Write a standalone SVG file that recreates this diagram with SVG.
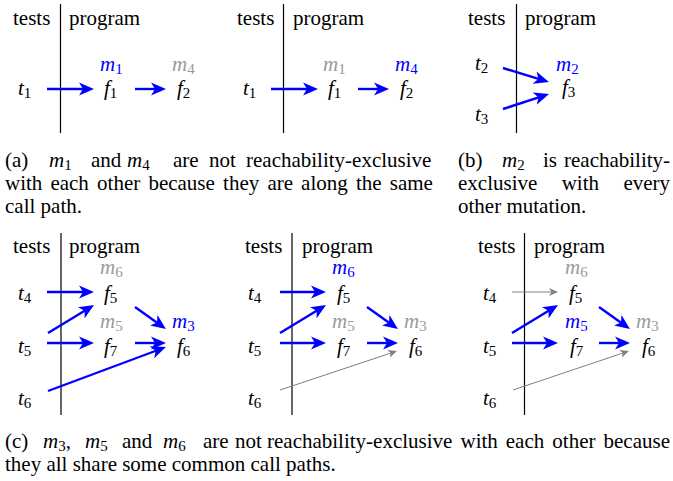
<svg xmlns="http://www.w3.org/2000/svg" width="673" height="481" viewBox="0 0 673 481">
<style>
text { font-family: "Liberation Serif", "Times New Roman", serif; font-size: 21px; fill: #000; }
.mi { font-style: italic; }
.sub { font-size: 15px; font-style: normal; }
.b { fill: #0000ff; }
.g { fill: #9a9a9a; }
.sep { stroke: #000; stroke-width: 1.2; }
.ab { fill: none; stroke: #0000ff; stroke-width: 2.4; marker-end: url(#hb); }
.ag { fill: none; stroke: #808080; stroke-width: 1; marker-end: url(#hg); }
</style>
<defs>
<marker id="hb" viewBox="0 -7 15 14" refX="5" refY="0" markerWidth="15" markerHeight="14" markerUnits="userSpaceOnUse" orient="auto">
<path d="M0,-6.5 L15,0 L0,6.5 L4,0 Z" fill="#0000ff"/>
</marker>
<marker id="hg" viewBox="0 -5 10 10" refX="3" refY="0" markerWidth="10" markerHeight="10" markerUnits="userSpaceOnUse" orient="auto">
<path d="M0,-4 L9,0 L0,4 L2.5,0 Z" fill="#808080"/>
</marker>
</defs>

<!-- Panel a1 -->
<g id="a1-frame">
<text x="13" y="25">tests</text>
<text x="69" y="25">program</text>
<line class="sep" x1="60.5" y1="4" x2="60.5" y2="133"/>
</g>
<g id="a1-t1"><text x="18" y="95"><tspan class="mi">t</tspan><tspan class="sub" dy="3">1</tspan></text></g>
<g id="a1-f1"><text x="104" y="95"><tspan class="mi">f</tspan><tspan class="sub" dy="3">1</tspan></text><text class="b" x="100" y="71"><tspan class="mi">m</tspan><tspan class="sub" dy="3">1</tspan></text></g>
<g id="a1-f2"><text x="177" y="95"><tspan class="mi">f</tspan><tspan class="sub" dy="3">2</tspan></text><text class="g" x="172" y="71"><tspan class="mi">m</tspan><tspan class="sub" dy="3">4</tspan></text></g>

<!-- Panel a2 -->
<g id="a2-frame">
<text x="237" y="25">tests</text>
<text x="293" y="25">program</text>
<line class="sep" x1="283.5" y1="4" x2="283.5" y2="133"/>
</g>
<g id="a2-t1"><text x="243" y="95"><tspan class="mi">t</tspan><tspan class="sub" dy="3">1</tspan></text></g>
<g id="a2-f1"><text x="328" y="95"><tspan class="mi">f</tspan><tspan class="sub" dy="3">1</tspan></text><text class="g" x="323" y="71"><tspan class="mi">m</tspan><tspan class="sub" dy="3">1</tspan></text></g>
<g id="a2-f2"><text x="400" y="95"><tspan class="mi">f</tspan><tspan class="sub" dy="3">2</tspan></text><text class="b" x="395" y="71"><tspan class="mi">m</tspan><tspan class="sub" dy="3">4</tspan></text></g>

<!-- Panel b -->
<g id="b-frame">
<text x="468" y="25">tests</text>
<text x="525" y="25">program</text>
<line class="sep" x1="516.5" y1="4" x2="516.5" y2="133"/>
</g>
<g id="b-t2"><text x="475" y="70"><tspan class="mi">t</tspan><tspan class="sub" dy="3">2</tspan></text></g>
<g id="b-t3"><text x="475" y="121"><tspan class="mi">t</tspan><tspan class="sub" dy="3">3</tspan></text></g>
<g id="b-f3"><text x="562" y="94"><tspan class="mi">f</tspan><tspan class="sub" dy="3">3</tspan></text><text class="b" x="556" y="71"><tspan class="mi">m</tspan><tspan class="sub" dy="3">2</tspan></text></g>

<!-- Panel c1 -->
<g id="c1-frame">
<text x="13" y="253">tests</text>
<text x="69" y="253">program</text>
<line class="sep" x1="61" y1="233" x2="61" y2="415"/>
</g>
<g id="c1-t4"><text x="18" y="300"><tspan class="mi">t</tspan><tspan class="sub" dy="3">4</tspan></text></g>
<g id="c1-t5"><text x="18" y="353"><tspan class="mi">t</tspan><tspan class="sub" dy="3">5</tspan></text></g>
<g id="c1-t6"><text x="18" y="405"><tspan class="mi">t</tspan><tspan class="sub" dy="3">6</tspan></text></g>
<g id="c1-f5"><text x="104" y="300"><tspan class="mi">f</tspan><tspan class="sub" dy="3">5</tspan></text><text class="g" x="100" y="274"><tspan class="mi">m</tspan><tspan class="sub" dy="3">6</tspan></text></g>
<g id="c1-f7"><text x="104" y="353"><tspan class="mi">f</tspan><tspan class="sub" dy="3">7</tspan></text><text class="g" x="100" y="328"><tspan class="mi">m</tspan><tspan class="sub" dy="3">5</tspan></text></g>
<g id="c1-f6"><text x="177" y="353"><tspan class="mi">f</tspan><tspan class="sub" dy="3">6</tspan></text><text class="b" x="172" y="328"><tspan class="mi">m</tspan><tspan class="sub" dy="3">3</tspan></text></g>

<!-- Panel c2 -->
<g id="c2-frame">
<text x="245" y="253">tests</text>
<text x="302" y="253">program</text>
<line class="sep" x1="292" y1="233" x2="292" y2="415"/>
</g>
<g id="c2-t4"><text x="248" y="300"><tspan class="mi">t</tspan><tspan class="sub" dy="3">4</tspan></text></g>
<g id="c2-t5"><text x="248" y="353"><tspan class="mi">t</tspan><tspan class="sub" dy="3">5</tspan></text></g>
<g id="c2-t6"><text x="248" y="405"><tspan class="mi">t</tspan><tspan class="sub" dy="3">6</tspan></text></g>
<g id="c2-f5"><text x="337" y="300"><tspan class="mi">f</tspan><tspan class="sub" dy="3">5</tspan></text><text class="b" x="332" y="274"><tspan class="mi">m</tspan><tspan class="sub" dy="3">6</tspan></text></g>
<g id="c2-f7"><text x="337" y="353"><tspan class="mi">f</tspan><tspan class="sub" dy="3">7</tspan></text><text class="g" x="332" y="328"><tspan class="mi">m</tspan><tspan class="sub" dy="3">5</tspan></text></g>
<g id="c2-f6"><text x="409" y="353"><tspan class="mi">f</tspan><tspan class="sub" dy="3">6</tspan></text><text class="g" x="404" y="328"><tspan class="mi">m</tspan><tspan class="sub" dy="3">3</tspan></text></g>

<!-- Panel c3 -->
<g id="c3-frame">
<text x="478" y="253">tests</text>
<text x="534" y="253">program</text>
<line class="sep" x1="524.5" y1="233" x2="524.5" y2="415"/>
</g>
<g id="c3-t4"><text x="483" y="300"><tspan class="mi">t</tspan><tspan class="sub" dy="3">4</tspan></text></g>
<g id="c3-t5"><text x="483" y="353"><tspan class="mi">t</tspan><tspan class="sub" dy="3">5</tspan></text></g>
<g id="c3-t6"><text x="483" y="405"><tspan class="mi">t</tspan><tspan class="sub" dy="3">6</tspan></text></g>
<g id="c3-f5"><text x="569" y="300"><tspan class="mi">f</tspan><tspan class="sub" dy="3">5</tspan></text><text class="g" x="565" y="274"><tspan class="mi">m</tspan><tspan class="sub" dy="3">6</tspan></text></g>
<g id="c3-f7"><text x="570" y="353"><tspan class="mi">f</tspan><tspan class="sub" dy="3">7</tspan></text><text class="b" x="565" y="328"><tspan class="mi">m</tspan><tspan class="sub" dy="3">5</tspan></text></g>
<g id="c3-f6"><text x="642" y="353"><tspan class="mi">f</tspan><tspan class="sub" dy="3">6</tspan></text><text class="g" x="636" y="328"><tspan class="mi">m</tspan><tspan class="sub" dy="3">3</tspan></text></g>

<!-- Connectors -->
<g id="connectors">
<path class="ab" d="M47,89 L84,89"/>
<path class="ab" d="M135,89 L156,89"/>
<path class="ab" d="M271,89 L308,89"/>
<path class="ab" d="M358,89 L379,89"/>
<path class="ab" d="M503,68 L539.4,79.1"/>
<path class="ab" d="M503,109 L539.5,97.1"/>

<path class="ab" d="M47,292 L84,292"/>
<path class="ab" d="M48,333 L85.5,310.2"/>
<path class="ab" d="M47,343 L84,343"/>
<path class="ab" d="M135,307 L157.8,323.2"/>
<path class="ab" d="M135,343 L156,343"/>
<path class="ab" d="M48,391 L156.6,350.5"/>

<path class="ab" d="M280,292 L316,292"/>
<path class="ab" d="M280,333 L317.5,310.2"/>
<path class="ab" d="M280,343 L316,343"/>
<path class="ab" d="M367,307 L389.8,323.2"/>
<path class="ab" d="M367,343 L388,343"/>
<path class="ag" d="M280,390 L391.3,352.9"/>

<path class="ag" d="M512,292 L552,292"/>
<path class="ab" d="M512,333 L549.5,310.2"/>
<path class="ab" d="M512,343 L548,343"/>
<path class="ab" d="M599,307 L621.8,323.2"/>
<path class="ab" d="M599,343 L620,343"/>
<path class="ag" d="M513,390 L623.3,352.9"/>
</g>

<!-- Captions -->
<g id="caption-a">
<text y="167"><tspan x="5">(a)</tspan><tspan x="49" class="mi">m</tspan><tspan class="sub" dy="3">1</tspan><tspan x="91" dy="-3">and</tspan><tspan x="127" class="mi">m</tspan><tspan class="sub" dy="3">4</tspan><tspan x="173" dy="-3">are</tspan><tspan x="209">not</tspan><tspan x="246">reachability-exclusive</tspan></text>
<text y="190"><tspan x="5">with</tspan><tspan x="50.4">each</tspan><tspan x="97.1">other</tspan><tspan x="148.4">because</tspan><tspan x="223.1">they</tspan><tspan x="267.4">are</tspan><tspan x="301.1">along</tspan><tspan x="356">the</tspan><tspan x="389.8">same</tspan></text>
<text x="5" y="213">call path.</text>
</g>
<g id="caption-b">
<text y="167"><tspan x="458">(b)</tspan><tspan x="502" class="mi">m</tspan><tspan class="sub" dy="3">2</tspan><tspan x="543" dy="-3">is</tspan><tspan x="564">reachability-</tspan></text>
<text y="190"><tspan x="458">exclusive</tspan><tspan x="561.7">with</tspan><tspan x="623.4">every</tspan></text>
<text x="458" y="213">other mutation.</text>
</g>
<g id="caption-c">
<text y="448"><tspan x="5">(c)</tspan><tspan x="43" class="mi">m</tspan><tspan class="sub" dy="3">3</tspan><tspan dy="-3">,</tspan><tspan x="85" class="mi">m</tspan><tspan class="sub" dy="3">5</tspan><tspan x="122" dy="-3">and</tspan><tspan x="163" class="mi">m</tspan><tspan class="sub" dy="3">6</tspan><tspan x="203" dy="-3">are</tspan><tspan x="235">not</tspan><tspan x="267">reachability-exclusive</tspan><tspan x="460.5">with</tspan><tspan x="505.8">each</tspan><tspan x="552.3">other</tspan><tspan x="603.5">because</tspan></text>
<text x="5" y="471">they all share some common call paths.</text>
</g>
</svg>
